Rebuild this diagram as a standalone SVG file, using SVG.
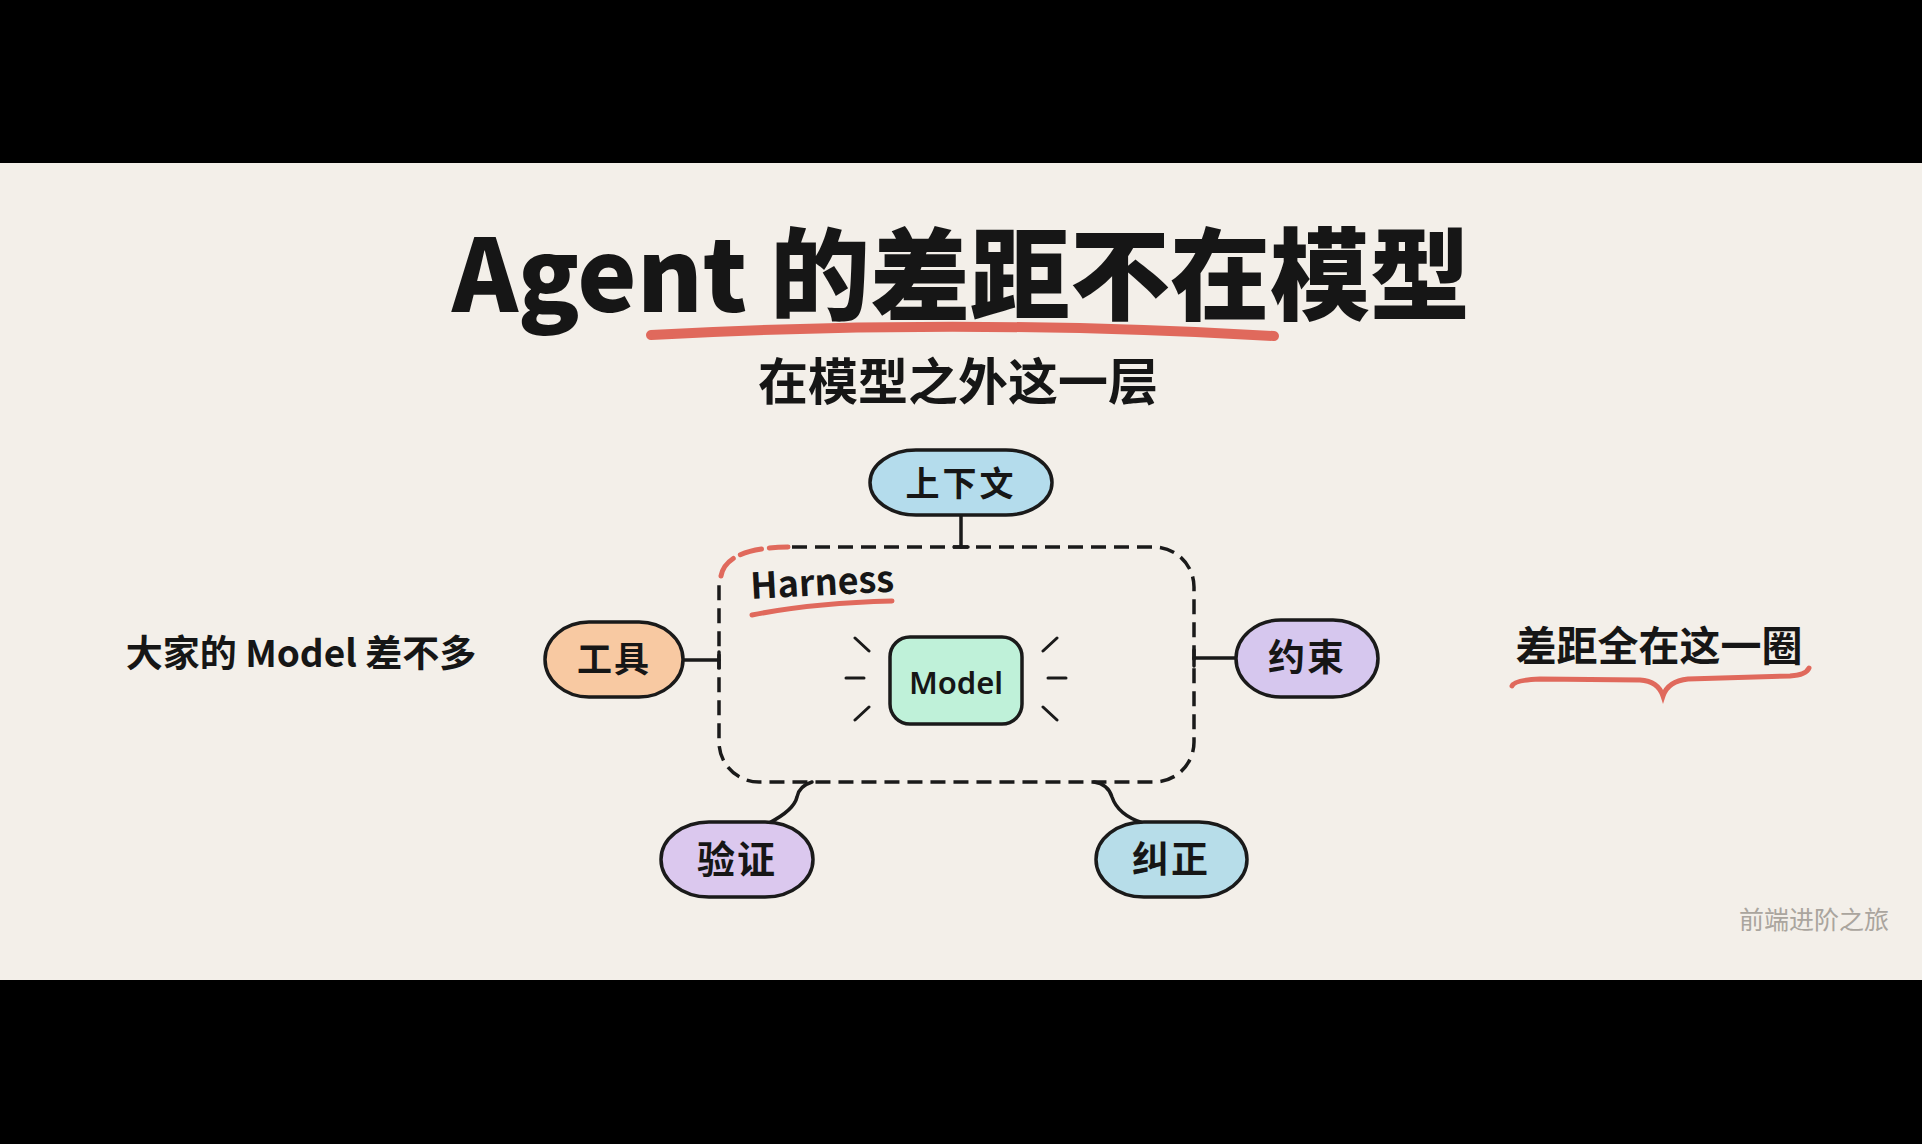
<svg xmlns="http://www.w3.org/2000/svg" width="1922" height="1144" viewBox="0 0 1922 1144">
<style>
.cjk{font-family:"Noto Sans CJK SC","Noto Sans",sans-serif;fill:#161616}
.node{stroke:#1a1a1a;stroke-width:3.5}
.lbl{font-family:"Noto Sans CJK SC","Noto Sans",sans-serif;font-weight:700;fill:#161616;text-anchor:middle}
.conn{fill:none;stroke:#1a1a1a;stroke-width:3.5;stroke-linecap:round}
.ray{fill:none;stroke:#1a1a1a;stroke-width:3;stroke-linecap:round}
.red{fill:none;stroke:#e0695c;stroke-linecap:round}
</style>
<rect x="0" y="0" width="1922" height="1144" fill="#f3efe9"/>
<rect x="0" y="0" width="1922" height="163" fill="#000"/>
<rect x="0" y="980" width="1922" height="164" fill="#000"/>

<g id="title">
<text class="cjk" x="961" y="312" font-size="100" font-weight="900" text-anchor="middle">Agent 的差距不在模型</text>
<path class="red" stroke-width="10" d="M651,335 Q960,318 1274,336"/>
<text class="cjk" x="958" y="400" font-size="50" font-weight="700" text-anchor="middle">在模型之外这一层</text>
</g>

<g id="left-note">
<text class="cjk" x="301" y="667" font-size="37" font-weight="700" text-anchor="middle">大家的 Model 差不多</text>
</g>

<g id="right-note">
<text class="cjk" x="1659" y="661" font-size="41" font-weight="700" text-anchor="middle">差距全在这一圈</text>
<path class="red" stroke-width="5" d="M1512,686 Q1514,680 1540,679 L1640,680 Q1658,681 1663,696 Q1668,681 1688,679 L1790,676 Q1806,675 1809,668"/>
</g>

<g id="harness">
<path fill="none" stroke="#1a1a1a" stroke-width="3.5" stroke-dasharray="15 8" d="M792,547 H1154 A40,40 0 0 1 1194,587 V742 A40,40 0 0 1 1154,782 H759 A40,40 0 0 1 719,742 V582"/>
<path class="red" stroke-width="5" stroke-linecap="butt" stroke-dasharray="22 8" d="M721,576 Q726,548 788,547"/>
<text class="cjk" x="751" y="599" font-size="36" font-weight="600" transform="rotate(-3 751 599)">Harness</text>
<path class="red" stroke-width="5" d="M752,615 Q812,603 892,601"/>
</g>

<g id="connectors">
<path class="conn" d="M961,515 V547"/>
<path class="conn" d="M954,547 H968"/>
<path class="conn" d="M683,660 H719"/>
<path class="conn" d="M719,652 V668"/>
<path class="conn" d="M1194,658 H1236"/>
<path class="conn" d="M1194,650 V666"/>
<path class="conn" d="M812,782 Q799,786 797,797 Q794,810 769,823"/>
<path class="conn" d="M1094,782 Q1108,784 1112,797 Q1118,815 1143,823"/>
</g>

<g id="node-context">
<rect class="node" x="870" y="450" width="182" height="65" rx="46" ry="32.5" fill="#b4dcec"/>
<text class="lbl" x="961" y="496" font-size="34" letter-spacing="3">上下文</text>
</g>

<g id="node-tools">
<rect class="node" x="545" y="622" width="138" height="75" rx="44" ry="37.5" fill="#f8c9a2"/>
<text class="lbl" x="614" y="672" font-size="35" letter-spacing="2">工具</text>
</g>

<g id="node-constraint">
<rect class="node" x="1236" y="620" width="142" height="77" rx="45" ry="38.5" fill="#d6c7ee"/>
<text class="lbl" x="1307" y="671" font-size="37" letter-spacing="2">约束</text>
</g>

<g id="node-verify">
<rect class="node" x="661" y="822" width="152" height="75" rx="48" ry="37.5" fill="#dbc8ee"/>
<text class="lbl" x="737" y="873" font-size="38" letter-spacing="2">验证</text>
</g>

<g id="node-correct">
<rect class="node" x="1096" y="822" width="151" height="75" rx="48" ry="37.5" fill="#b7dde9"/>
<text class="lbl" x="1171" y="873" font-size="37" letter-spacing="2">纠正</text>
</g>

<g id="node-model">
<rect class="node" x="890" y="637" width="132" height="87" rx="20" fill="#bff1d9"/>
<text x="956" y="694" font-family="Noto Sans, Liberation Sans, sans-serif" font-size="31" font-weight="600" fill="#161616" text-anchor="middle">Model</text>
<path class="ray" d="M855,638 L869,651 M846,678 H864 M855,720 L869,707 M1043,651 L1057,638 M1048,678 H1066 M1043,707 L1057,720"/>
</g>

<g id="watermark">
<text x="1814" y="929" font-family="Noto Sans CJK SC, sans-serif" font-size="25" fill="#aaa59e" text-anchor="middle">前端进阶之旅</text>
</g>
</svg>
